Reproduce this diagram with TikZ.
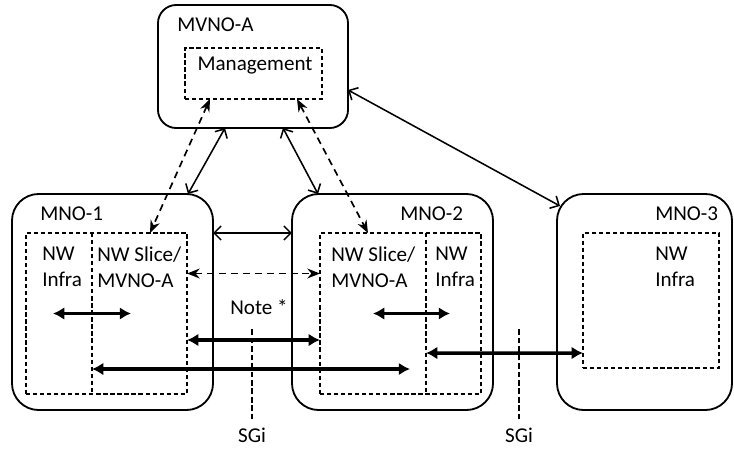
\documentclass[tikz,border=0pt]{standalone}
\usepackage{fontspec}
\setmainfont{Carlito}
\usetikzlibrary{arrows.meta}
\usetikzlibrary{calc}

\begin{document}
\begin{tikzpicture}[x=0.025cm, y=-0.025cm,
  opbox/.style={draw, line width=1.3pt, rounded corners=19pt, inner sep=0pt, outer sep=0pt},
  nwbox/.style={draw, line width=1pt, dash pattern=on 3pt off 2pt, inner sep=0pt, outer sep=0pt},
  lbl/.style={font=\fontsize{15}{18.5}\selectfont, inner sep=0pt, align=left},
  ctrl/.style={{Straight Barb[length=5pt,width=10pt]}-{Straight Barb[length=5pt,width=10pt]}, line width=1.1pt},
  mgmtlink/.style={{Stealth[length=9pt,width=7pt]}-{Stealth[length=9pt,width=7pt]}, dash pattern=on 5pt off 3.5pt, line width=1.2pt},
  datalink/.style={{Latex[length=8pt,width=9pt]}-{Latex[length=8pt,width=9pt]}, line width=2.5pt},
  sgiline/.style={dash pattern=on 4pt off 2pt, line width=0.9pt}]
  \useasboundingbox (0,0) rectangle (734,448);

  % operator boxes
  \node[opbox, rounded corners=13pt, minimum width=4.75cm, minimum height=3.075cm] (mvno) at (253,66.5) {};
  \node[nwbox, minimum width=3.425cm, minimum height=1.275cm] (mgmt) at (253.5,73.5) {};
  \node[opbox, minimum width=5.025cm, minimum height=5.4cm] (mno1) at (112.5,302) {};
  \node[nwbox, minimum width=4.025cm, minimum height=4.025cm] (in1) at (106.5,313.5) {};
  \node[opbox, minimum width=5.025cm, minimum height=5.4cm] (mno2) at (392.5,302) {};
  \node[nwbox, minimum width=4.025cm, minimum height=4.025cm] (in2) at (400.5,313.5) {};
  \node[opbox, minimum width=4.375cm, minimum height=5.4cm] (mno3) at (644.5,302) {};
  \node[nwbox, minimum width=3.4cm, minimum height=3.375cm] (in3) at (651,300.5) {};

  % infra / slice split
  \coordinate (div1) at (92,233);
  \coordinate (div2) at (426,233);
  \draw[nwbox] (div1) -- (div1 |- in1.south);
  \draw[nwbox] (div2) -- (div2 |- in2.south);

  % labels
  \node[lbl, anchor=west] (tmvno) at (177,25) {MVNO-A};
  \node[lbl] (tmgmt) at (255,66) {Management};
  \node[lbl, anchor=west] (tmno1) at (40,214) {MNO-1};
  \node[lbl, anchor=west] (tinfra1) at (42,267) {NW\\Infra};
  \node[lbl, anchor=west] (tslice1) at (97,267) {NW Slice/\\MVNO-A};
  \node[lbl, anchor=west] (tmno2) at (400,214) {MNO-2};
  \node[lbl, anchor=west] (tslice2) at (331,267) {NW Slice/\\MVNO-A};
  \node[lbl, anchor=west] (tinfra2) at (435,267) {NW\\Infra};
  \node[lbl, anchor=west] (tmno3) at (655,214) {MNO-3};
  \node[lbl, anchor=west] (tinfra3) at (655,267) {NW\\Infra};
  \node[lbl, anchor=west] (tnote) at (230,307) {Note *};
  \node[lbl] (sgi1) at (252,435) {SGi};
  \node[lbl] (sgi2) at (519,435) {SGi};

  % control links
  \draw[ctrl] ($(mvno.south)+(-28,0)$) -- ($(mno1.north)+(75.5,0)$);
  \draw[ctrl] ($(mvno.south)+(30,0)$) -- ($(mno2.north)+(-74.5,0)$);
  \draw[ctrl] ($(mvno.east)+(0,23.5)$) -- ($(mno3.north west)+(3,12)$);
  \draw[ctrl] (mno1.east |- in1.north) -- (mno2.west |- in1.north);

  % management links
  \draw[mgmtlink] ($(mgmt.south)+(-43.5,0)$) -- ($(in1.north)+(43.5,0)$);
  \draw[mgmtlink] ($(mgmt.south)+(43.5,0)$) -- ($(in2.north)+(-32.5,0)$);
  \draw[mgmtlink] ($(in1.east)+(0,-40)$) -- ($(in2.west)+(0,-40)$);

  % user plane
  \draw[datalink] ($(in1.center -| div1)+(-39,0)$) -- ($(in1.center -| div1)+(39,0)$);
  \draw[datalink] ($(in2.center -| div2)+(-53,0)$) -- ($(in2.center -| div2)+(24,0)$);
  \draw[datalink] ($(in1.east)+(0,26.5)$) -- ($(in2.west)+(0,26.5)$);
  \draw[datalink] ($(div1)+(0,136)$) -- ($(div2)+(-16,136)$);
  \draw[datalink] ($(div2)+(0,120)$) -- ($(in3.west)+(0,52.5)$);

  % SGi reference points
  \draw[sgiline] ($(sgi1.north)+(0,-8)$) -- ++(0,-92);
  \draw[sgiline] ($(sgi2.north)+(0,-8)$) -- ++(0,-92);
\end{tikzpicture}
\end{document}
